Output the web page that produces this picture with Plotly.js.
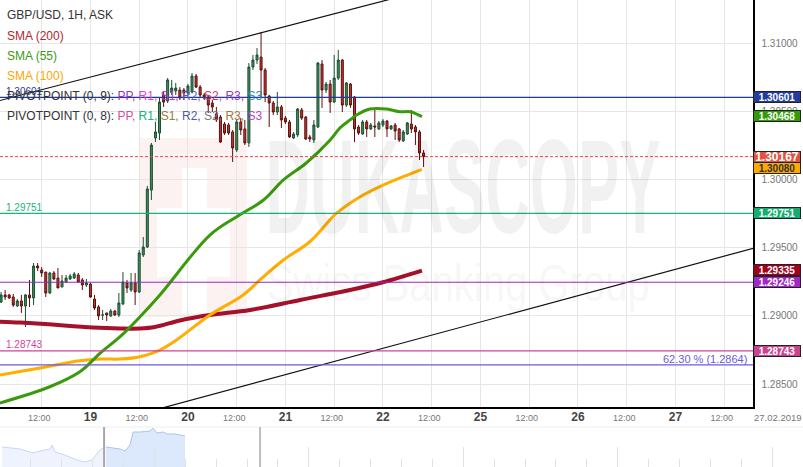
<!DOCTYPE html>
<html><head><meta charset="utf-8">
<script src="https://cdn.plot.ly/plotly-3.0.1.min.js"></script>
<style>html,body{margin:0;padding:0;background:#fff;}#chart{width:803px;height:467px;}</style>
</head><body><div id="chart"></div>
<script>
// ---- Candles (1H, hours counted from 18 Feb 00:00, weekend removed) ----
const candleOpen = [
1.29101,1.29153,1.29153,1.29138,1.29072,1.29109,1.29072,1.29153,1.29131,1.29365,
1.29336,1.29321,1.29167,1.29314,1.29277,1.29211,1.29248,1.29270,1.29277,1.29299,
1.29263,1.29226,1.29233,1.29123,1.29065,1.29006,1.29021,1.28999,1.29035,1.29006,
1.29087,1.29241,1.29189,1.29241,1.29175,1.29446,1.29504,1.29922,1.30304,1.30340,
1.30619,1.30575,1.30641,1.30648,1.30655,1.30655,1.30633,1.30641,1.30758,1.30677,
1.30619,1.30604,1.30560,1.30480,1.30457,1.30406,1.30399,1.30348,1.30216,1.30421,
1.30370,1.30267,1.30824,1.30875,1.30897,1.30802,1.30611,1.30560,1.30494,1.30531,
1.30450,1.30421,1.30304,1.30326,1.30509,1.30457,1.30311,1.30289,1.30384,1.30846,
1.30655,1.30699,1.30567,1.30743,1.30875,1.30545,1.30699,1.30604,1.30384,1.30333,
1.30421,1.30370,1.30392,1.30370,1.30399,1.30428,1.30370,1.30399,1.30370,1.30282,
1.30333,1.30406,1.30384,1.30348,1.30194];
const candleHigh = [
1.29175,1.29189,1.29160,1.29160,1.29123,1.29153,1.29160,1.29263,1.29387,1.29387,
1.29358,1.29321,1.29321,1.29328,1.29351,1.29299,1.29299,1.29307,1.29321,1.29314,
1.29277,1.29270,1.29241,1.29153,1.29079,1.29043,1.29021,1.29050,1.29043,1.29167,
1.29321,1.29263,1.29314,1.29314,1.29482,1.29578,1.29952,1.30267,1.30421,1.30597,
1.30641,1.30743,1.30729,1.30707,1.30677,1.30670,1.30699,1.30780,1.30773,1.30692,
1.30633,1.30619,1.30582,1.30531,1.30472,1.30421,1.30414,1.30362,1.30436,1.30450,
1.30436,1.30853,1.30912,1.30963,1.31081,1.30817,1.30619,1.30575,1.30641,1.30545,
1.30465,1.30436,1.30348,1.30524,1.30524,1.30465,1.30326,1.30436,1.30861,1.30875,
1.30714,1.30729,1.30912,1.30949,1.30883,1.30714,1.30707,1.30611,1.30399,1.30436,
1.30436,1.30414,1.30509,1.30428,1.30443,1.30436,1.30399,1.30414,1.30377,1.30362,
1.30421,1.30509,1.30399,1.30362,1.30216];
const candleLow = [
1.29094,1.29116,1.29123,1.29065,1.29065,1.29021,1.28918,1.29065,1.29079,1.29328,
1.29285,1.29138,1.29160,1.29263,1.29204,1.29211,1.29241,1.29263,1.29270,1.29241,
1.29189,1.29211,1.29131,1.29043,1.28969,1.28969,1.28962,1.28991,1.28999,1.28991,
1.29079,1.29167,1.29175,1.29079,1.29167,1.29431,1.29497,1.29849,1.30274,1.30289,
1.30531,1.30560,1.30619,1.30619,1.30582,1.30582,1.30619,1.30633,1.30670,1.30604,
1.30582,1.30487,1.30494,1.30421,1.30267,1.30326,1.30326,1.30128,1.30201,1.30326,
1.30252,1.30238,1.30802,1.30846,1.30604,1.30567,1.30384,1.30472,1.30472,1.30377,
1.30406,1.30304,1.30296,1.30311,1.30436,1.30289,1.30274,1.30267,1.30377,1.30524,
1.30633,1.30487,1.30560,1.30729,1.30494,1.30531,1.30524,1.30274,1.30326,1.30326,
1.30311,1.30362,1.30311,1.30362,1.30384,1.30311,1.30362,1.30289,1.30274,1.30274,
1.30326,1.30340,1.30252,1.30142,1.30091];
const candleClose = [
1.29153,1.29138,1.29131,1.29079,1.29109,1.29072,1.29153,1.29131,1.29365,1.29351,
1.29314,1.29167,1.29314,1.29270,1.29204,1.29255,1.29277,1.29292,1.29307,1.29248,
1.29226,1.29241,1.29138,1.29057,1.28999,1.29006,1.29006,1.29035,1.29006,1.29094,
1.29248,1.29204,1.29241,1.29175,1.29461,1.29504,1.29930,1.30252,1.30348,1.30567,
1.30567,1.30729,1.30670,1.30670,1.30597,1.30633,1.30685,1.30758,1.30677,1.30619,
1.30597,1.30545,1.30531,1.30436,1.30274,1.30340,1.30340,1.30230,1.30421,1.30362,
1.30267,1.30824,1.30875,1.30912,1.30802,1.30619,1.30560,1.30494,1.30531,1.30436,
1.30421,1.30311,1.30333,1.30516,1.30450,1.30296,1.30296,1.30399,1.30853,1.30655,
1.30699,1.30567,1.30743,1.30875,1.30545,1.30707,1.30545,1.30370,1.30340,1.30421,
1.30370,1.30399,1.30384,1.30414,1.30428,1.30370,1.30392,1.30355,1.30289,1.30348,
1.30414,1.30370,1.30348,1.30194,1.30167];
const firstCandleHour = 2;
const candleHours = candleOpen.map((_, i) => firstCandleHour + i);

// ---- Moving averages (hour, value) ----
const sma200Hours = [1.7, 6.7, 12.8, 24.6, 31.3, 36.2, 39.9, 46.0, 53.4, 63.3, 75.6, 87.9, 96.0, 105.6];
const sma200Values = [1.28957, 1.28951, 1.28940, 1.28914, 1.28907, 1.28907, 1.28918, 1.28966, 1.29006, 1.29043, 1.29116, 1.29189, 1.29246, 1.29331];
const sma55Hours = [1.7, 14.0, 21.4, 26.4, 31.3, 36.2, 41.1, 53.4, 60.0, 66.6, 71.5, 77.2, 83.0, 85.4, 87.9, 89.5, 92.8, 96.9, 100.2, 102.7, 105.6];
const sma55Values = [1.28361, 1.28480, 1.28590, 1.28727, 1.28847, 1.28993, 1.29153, 1.29592, 1.29727, 1.29849, 1.29996, 1.30122, 1.30289, 1.30377, 1.30436, 1.30472, 1.30516, 1.30516, 1.30496, 1.30496, 1.30460];
const sma100Hours = [1.7, 11.6, 21.4, 26.4, 31.3, 36.2, 41.1, 45.2, 53.4, 61.6, 65.7, 71.5, 78.0, 84.6, 90.4, 96.1, 101.0, 105.6];
const sma100Values = [1.28566, 1.28617, 1.28671, 1.28683, 1.28683, 1.28700, 1.28749, 1.28823, 1.29006, 1.29153, 1.29263, 1.29409, 1.29543, 1.29752, 1.29873, 1.29959, 1.30020, 1.30074];

// ---- Trend channel ----
const upperTrendHours = [0, 100];
const upperTrendValues = [1.30565, 1.31338];
const lowerTrendHours = [40, 190];
const lowerTrendValues = [1.28311, 1.29518];

// ---- Levels ----
const levelValues = [1.30601, 1.29751, 1.29246, 1.28743, 1.2864];
const levelColors = ['#1f3a98', '#19b37b', '#9c27b8', '#d23f9e', '#6a5be0'];
const levelBoxColors = ['#233d9e', '#17ad70', '#a227c6', '#c8448f', null];
const leftLevelLabels = ['1.30601', '1.29751', null, '1.28743', null];
const fibLabel = '62.30 % (1.2864)';
const currentPrice = 1.30167;
const smaLastValues = [1.30468, 1.30080, 1.29335];
const smaBoxColors = ['#339a08', '#ffa800', '#a3001c'];
const smaBoxTextColors = ['#ffffff', '#333333', '#ffffff'];

// ---- Axis ticks ----
const xTickHours = [12, 24, 36, 48, 60, 72, 84, 96, 108, 120, 132, 144, 156, 168, 180];
const xTickLabels = ['12:00', '19', '12:00', '20', '12:00', '21', '12:00', '22', '12:00', '25', '12:00', '26', '12:00', '27', '12:00'];
const yTickValues = [1.285, 1.29, 1.295, 1.30, 1.305, 1.31];
const dateStamp = '27.02.2019';

// ---- Navigator (days) ----
const navPastDays = [0.06, 0.65, 1.07, 1.30, 1.62, 1.68, 1.78, 2.10, 2.49, 2.75, 2.98, 3.24, 3.34];
const navPastValues = [1.280, 1.276, 1.268, 1.272, 1.276, 1.284, 1.270, 1.264, 1.254, 1.250, 1.254, 1.274, 1.278];
const navViewDays = [3.43, 3.89, 4.05, 4.21, 4.31, 4.53, 4.86, 4.95, 5.08, 5.28, 5.41, 5.67, 5.83, 5.99];
const navViewValues = [1.280, 1.276, 1.272, 1.284, 1.310, 1.310, 1.312, 1.318, 1.308, 1.310, 1.306, 1.306, 1.304, 1.302];
const navWindowDays = [3.37, 8.42];

// ---- Legend texts ----
const titleText = 'GBP/USD, 1H, ASK';
const smaNames = ['SMA (200)', 'SMA (55)', 'SMA (100)'];
const smaColors = ['#b3262d', '#3c9a14', '#ffa500'];
const pivot9 = [['PP,', '#9b30d0'], ['R1,', '#e03fe0'], ['S1,', '#b535c8'], ['R2,', '#5a5ac8'], ['S2,', '#d23a6a'], ['R3,', '#9040c0'], ['S3', '#2890b0']];
const pivot8 = [['PP,', '#d050a0'], ['R1,', '#20b080'], ['S1,', '#9a7a40'], ['R2,', '#4a5aa8'], ['S2,', '#777777'], ['R3,', '#a07a40'], ['S3', '#c040d0']];
const watermarkTitle = 'DUKASCOPY';
const watermarkSub = 'Swiss Banking Group';

// ---- Layout helpers ----
const W = 803, H = 467, PLOT_R = 753, PLOT_B = 407, NAV_T = 427;
const px = x => x / W, py = y => 1 - y / H;

const traces = [];
traces.push({type: 'scatter', mode: 'lines', x: upperTrendHours, y: upperTrendValues, line: {color: '#111', width: 1.2}, xaxis: 'x', yaxis: 'y', hoverinfo: 'skip'});
traces.push({type: 'scatter', mode: 'lines', x: lowerTrendHours, y: lowerTrendValues, line: {color: '#111', width: 1.2}, xaxis: 'x', yaxis: 'y', hoverinfo: 'skip'});
traces.push({type: 'scatter', mode: 'lines', x: sma200Hours, y: sma200Values, line: {color: '#a5102a', width: 4, shape: 'spline'}, hoverinfo: 'skip'});
traces.push({type: 'scatter', mode: 'lines', x: sma100Hours, y: sma100Values, line: {color: '#ffad00', width: 3, shape: 'spline'}, hoverinfo: 'skip'});
traces.push({type: 'scatter', mode: 'lines', x: sma55Hours, y: sma55Values, line: {color: '#3a9a0c', width: 3, shape: 'spline'}, hoverinfo: 'skip'});
traces.push({type: 'candlestick', x: candleHours, open: candleOpen, high: candleHigh, low: candleLow, close: candleClose,
  increasing: {line: {color: '#1c4f32', width: 1}, fillcolor: '#3d8e5e'},
  decreasing: {line: {color: '#5e0f0f', width: 1}, fillcolor: '#c0392b'},
  whiskerwidth: 0, hoverinfo: 'skip', xaxis: 'x', yaxis: 'y'});
traces.push({type: 'scatter', mode: 'lines', x: navPastDays, y: navPastValues, fill: 'tozeroy', fillcolor: '#eef3fd', line: {color: '#c6d8f6', width: 1}, xaxis: 'x2', yaxis: 'y2', hoverinfo: 'skip'});
traces.push({type: 'scatter', mode: 'lines', x: navViewDays, y: navViewValues, fill: 'tozeroy', fillcolor: '#dce8fb', line: {color: '#a8c5f2', width: 1}, xaxis: 'x2', yaxis: 'y2', hoverinfo: 'skip'});

const shapes = [];
// watermark logo
const wm = 'rgba(240,160,160,0.14)';
shapes.push({type: 'rect', xref: 'paper', yref: 'paper', x0: px(140), x1: px(247), y0: py(317), y1: py(138), fillcolor: wm, line: {width: 0}, layer: 'below'});
shapes.push({type: 'rect', xref: 'paper', yref: 'paper', x0: px(182), x1: px(207), y0: py(313), y1: py(168), fillcolor: '#fff', line: {width: 0}, layer: 'below'});
shapes.push({type: 'rect', xref: 'paper', yref: 'paper', x0: px(157), x1: px(230), y0: py(277), y1: py(208), fillcolor: '#fff', line: {width: 0}, layer: 'below'});
// levels
levelValues.forEach((v, i) => shapes.push({type: 'line', xref: 'x domain', yref: 'y', x0: 0, x1: 1, y0: v, y1: v, line: {color: levelColors[i], width: 1.2}, layer: 'above'}));
shapes.push({type: 'line', xref: 'x domain', yref: 'y', x0: 0, x1: 1, y0: currentPrice, y1: currentPrice, line: {color: '#e74c3c', width: 1, dash: '3px,2px'}, layer: 'above'});
// navigator
shapes.push({type: 'line', xref: 'paper', yref: 'paper', x0: 0, x1: 1, y0: py(NAV_T), y1: py(NAV_T), line: {color: '#eeeeee', width: 1}});
navWindowDays.forEach((d, i) => shapes.push({type: 'line', xref: 'x2', yref: 'y2 domain', x0: d, x1: d, y0: 0, y1: 1, line: {color: i === 0 ? '#a8a8a8' : '#bdbdbd', width: 2}}));

const annotations = [];
const base = {xref: 'paper', yref: 'paper', showarrow: false, xanchor: 'left', yanchor: 'middle'};
// watermark texts (natural width close to target; stretched vertically after render)
annotations.push({...base, xanchor: 'center', x: px(462.5), y: py(187), text: watermarkTitle, font: {family: 'Liberation Sans, Arial', size: 61, weight: 700, color: 'rgba(0,0,0,0.055)'}});
annotations.push({...base, xanchor: 'center', x: px(458.5), y: py(283), text: watermarkSub, font: {family: 'Liberation Sans, Arial', size: 40, color: 'rgba(0,0,0,0.05)'}});
// left level labels
leftLevelLabels.forEach((t, i) => { if (t) annotations.push({...base, x: px(4), y: levelValues[i], yref: 'y', yshift: 6, text: t, font: {size: 10, color: levelColors[i]}}); });
// legend
annotations.push({...base, x: px(5), y: py(15), text: titleText, font: {size: 12, color: '#333'}});
smaNames.forEach((t, i) => annotations.push({...base, x: px(5), y: py(35.7 + 20 * i), text: t, font: {size: 12, color: smaColors[i]}}));
const pivLine = (n, arr) => 'PIVOTPOINT (0, ' + n + '): ' + arr.map(a => '<span style="color:' + a[1] + '">' + a[0] + '</span>').join(' ');
annotations.push({...base, x: px(5), y: py(96), text: pivLine(9, pivot9), font: {size: 12, color: '#333'}});
annotations.push({...base, x: px(5), y: py(116), text: pivLine(8, pivot8), font: {size: 12, color: '#333'}});
// fib label
annotations.push({xref: 'paper', yref: 'y', showarrow: false, xanchor: 'right', yanchor: 'middle', x: px(749), y: levelValues[4], yshift: 6, text: fibLabel, font: {size: 11, color: levelColors[4]}});
// right boxes
const boxAnn = (v, bg, fc, size) => ({xref: 'paper', yref: 'y', showarrow: false, xanchor: 'left', yanchor: 'middle', x: px(PLOT_R), y: v,
  text: '<b>' + v.toFixed(5) + '</b>', bgcolor: bg, bordercolor: '#222', borderwidth: 1, borderpad: 0, width: 46, height: 10, align: 'center', font: {size: size, color: fc}});
levelValues.forEach((v, i) => { if (levelBoxColors[i]) annotations.push(boxAnn(v, levelBoxColors[i], '#fff', 10)); });
smaLastValues.forEach((v, i) => annotations.push(boxAnn(v, smaBoxColors[i], smaBoxTextColors[i], 10)));
annotations.push(boxAnn(currentPrice, '#e2523f', '#fff', 12));
annotations.push({...base, xanchor: 'center', x: px(778), y: py(417), text: dateStamp, font: {size: 9.5, color: '#777'}});

const tickText = xTickLabels.map(t => t.length <= 2 ? '<span style="font-size:12px;color:#444"><b>' + t + '</b></span>' : t + '\u00a0\u00a0');

const layout = {
  width: W, height: H, margin: {l: 0, r: 0, t: 0, b: 0}, paper_bgcolor: '#fff', plot_bgcolor: 'rgba(0,0,0,0)',
  showlegend: false, hovermode: false, dragmode: false,
  font: {family: 'Liberation Sans, Arial, sans-serif'},
  xaxis: {domain: [0, PLOT_R / W], range: [1.735, 187.09], anchor: 'y', tickmode: 'array', tickvals: xTickHours, ticktext: tickText,
    tickfont: {size: 9, color: '#777'}, showgrid: true, gridcolor: '#e6e6e6', gridwidth: 1, zeroline: false,
    showline: true, linecolor: '#000', linewidth: 1.5, ticks: '', ticklabelstandoff: 2, rangeslider: {visible: false}, fixedrange: true},
  yaxis: {domain: [1 - PLOT_B / H, 1], range: [1.283315, 1.313152], side: 'right', anchor: 'x', tickmode: 'array', tickvals: yTickValues,
    ticktext: yTickValues.map(v => v.toFixed(5)), tickfont: {size: 10, color: '#777'}, showgrid: true, gridcolor: '#e6e6e6', zeroline: false,
    showline: true, linecolor: '#000', linewidth: 1.5, ticks: '', ticklabelstandoff: 5, fixedrange: true},
  xaxis2: {domain: [0, 1], range: [0, 26], anchor: 'y2', showgrid: false, zeroline: false, showline: false, showticklabels: false,
    ticks: 'inside', tickmode: 'linear', tick0: 0, dtick: 5, ticklen: 20, tickcolor: '#e2e2e2', tickwidth: 1,
    minor: {ticks: 'inside', dtick: 1, ticklen: 8, tickcolor: '#e2e2e2', tickwidth: 1}, fixedrange: true},
  yaxis2: {domain: [0, (H - NAV_T) / H], range: [1.24, 1.32], anchor: 'x2', visible: false, fixedrange: true},
  shapes: shapes, annotations: annotations
};

const gd = document.getElementById('chart');
Plotly.newPlot(gd, traces, layout, {staticPlot: true, displayModeBar: false}).then(() => {
  const fit = {}; fit[watermarkTitle] = [395, 2.2]; fit[watermarkSub] = [383, 1.3];
  gd.querySelectorAll('text').forEach(t => {
    const k = t.textContent;
    if (fit[k]) {
      t.setAttribute('textLength', fit[k][0]); t.setAttribute('lengthAdjust', 'spacingAndGlyphs');
      const bb = t.getBBox(); const cy = bb.y + bb.height / 2;
      const prev = t.getAttribute('transform') || '';
      t.setAttribute('transform', prev + ' translate(0,' + cy + ') scale(1,' + fit[k][1] + ') translate(0,' + (-cy) + ')');
    }
  });
});
</script></body></html>
